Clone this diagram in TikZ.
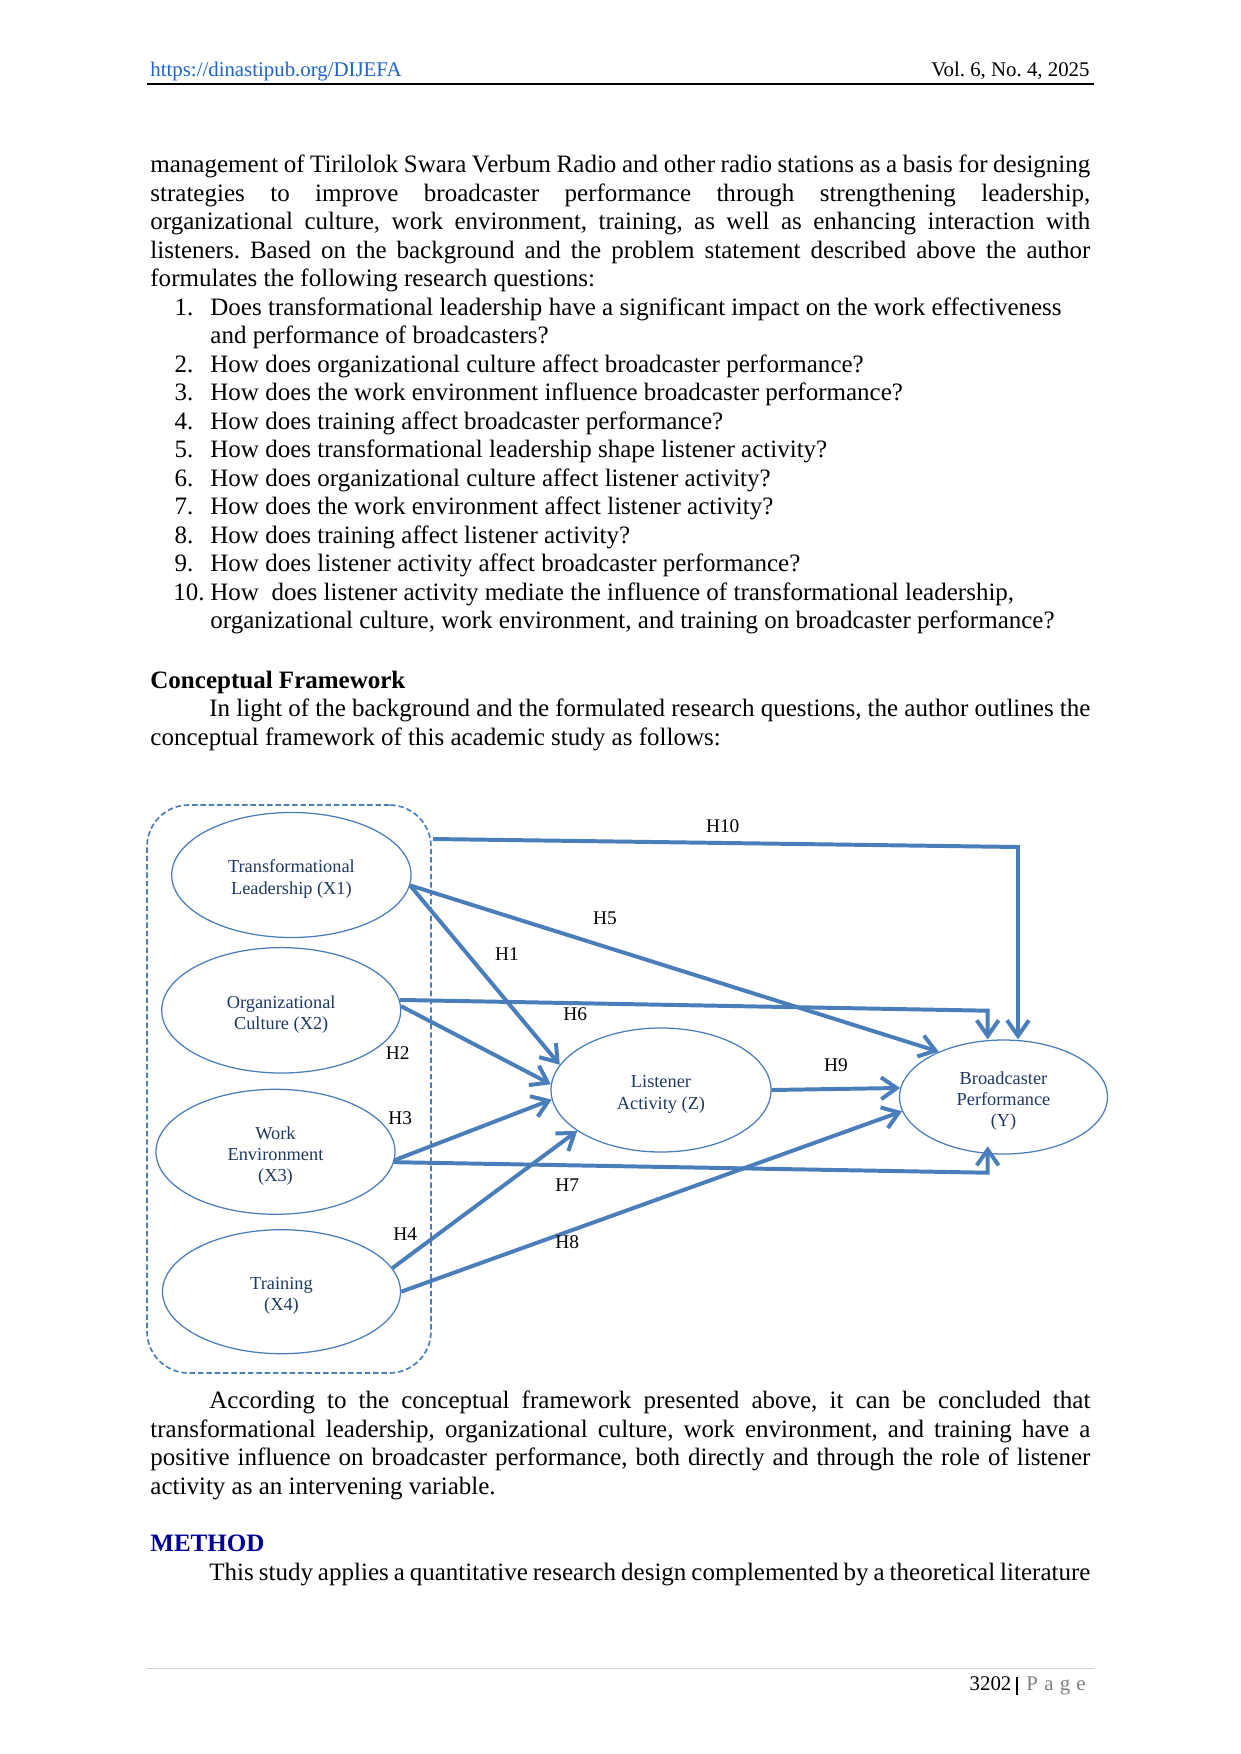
\documentclass[tikz,border=0pt]{standalone}
\usepackage{fontspec}
\setmainfont{Liberation Serif}
\usetikzlibrary{arrows.meta,shapes.geometric}
\definecolor{lnblue}{RGB}{74,126,187}
\definecolor{txblue}{RGB}{31,56,100}
\definecolor{urlblue}{RGB}{30,100,200}
\definecolor{headblue}{RGB}{0,0,153}
\def\px{0.4797pt}
\newcommand\jfull[1]{\makebox[450.9pt][s]{#1}}
\newcommand\jind[1]{\makebox[422.6pt][s]{#1}}
\begin{document}
\frenchspacing
\begin{tikzpicture}[x=0.4797pt,y=-0.4797pt,
  body/.style={anchor=base west,inner sep=0,font=\fontsize{12}{14}\selectfont},
  bodyb/.style={body,font=\fontsize{12}{14}\selectfont\bfseries},
  small/.style={anchor=base west,inner sep=0,font=\fontsize{10}{12}\selectfont},
  ell/.style={ellipse,draw=lnblue,line width=0.6pt,inner sep=0,align=center,
    text=txblue,font=\fontsize{8.8}{10.2}\selectfont},
  conn/.style={draw=lnblue,line width=1.9pt,line join=miter,
    -{Straight Barb[length=7.5pt,width=10.5pt]}},
  lab/.style={anchor=base,inner sep=0,font=\fontsize{9.3}{11}\selectfont},
  grpbox/.style={draw=lnblue,line width=0.8pt,dash pattern=on 2.6pt off 1.4pt,
    rounded corners=20pt,inner sep=0}]
\useasboundingbox (0,0) rectangle (1241,1754);
\fill[white] (0,0) rectangle (1241,1754);

% header
\node[small,text=urlblue] (url) at (150,77) {\underline{https://dinastipub.org/DIJEFA}};
\node[small,anchor=base east] (vol) at (1090,77) {Vol. 6, No. 4, 2025};
\draw[line width=1pt] (147,84.3) -- (1094,84.3);

% paragraph
\node[body] (p1) at (150,172.7) {\jfull{management of Tirilolok Swara Verbum Radio and other radio stations as a basis for designing}};
\node[body] (p2) at (150,201.2) {\jfull{strategies to improve broadcaster performance through strengthening leadership,}};
\node[body] (p3) at (150,229.7) {\jfull{organizational culture, work environment, training, as well as enhancing interaction with}};
\node[body] (p4) at (150,258.2) {\jfull{listeners. Based on the background and the problem statement described above the author}};
\node[body] (p5) at (150,286.7) {formulates the following research questions:};

% list
\node[body] (n1) at (174.3,315.2) {1.};
\node[body] (q1) at (210,315.2) {Does transformational leadership have a significant impact on the work effectiveness};
\node[body] (q1b) at (210,343.7) {and performance of broadcasters?};
\node[body] (n2) at (174.3,372.2) {2.};
\node[body] (q2) at (210,372.2) {How does organizational culture affect broadcaster performance?};
\node[body] (n3) at (174.3,400.7) {3.};
\node[body] (q3) at (210,400.7) {How does the work environment influence broadcaster performance?};
\node[body] (n4) at (174.3,429.2) {4.};
\node[body] (q4) at (210,429.2) {How does training affect broadcaster performance?};
\node[body] (n5) at (174.3,457.7) {5.};
\node[body] (q5) at (210,457.7) {How does transformational leadership shape listener activity?};
\node[body] (n6) at (174.3,486.2) {6.};
\node[body] (q6) at (210,486.2) {How does organizational culture affect listener activity?};
\node[body] (n7) at (174.3,514.7) {7.};
\node[body] (q7) at (210,514.7) {How does the work environment affect listener activity?};
\node[body] (n8) at (174.3,543.2) {8.};
\node[body] (q8) at (210,543.2) {How does training affect listener activity?};
\node[body] (n9) at (174.3,571.7) {9.};
\node[body] (q9) at (210,571.7) {How does listener activity affect broadcaster performance?};
\node[body] (n10) at (173,600.2) {10.};
\node[body] (q10) at (210,600.2) {How~\ does listener activity mediate the influence of transformational leadership,};
\node[body] (q10b) at (210,628.7) {organizational culture, work environment, and training on broadcaster performance?};

% conceptual framework
\node[bodyb] (cfh) at (150,688) {Conceptual Framework};
\node[body] (cf1) at (209,716.5) {\jind{In light of the background and the formulated research questions, the author outlines the}};
\node[body] (cf2) at (150,745) {conceptual framework of this academic study as follows:};

% diagram
\node[grpbox,minimum width=284*\px,minimum height=568*\px] (grp) at (289,1089) {};
\node[ell,minimum width=239.4*\px,minimum height=125*\px] (X1) at (291.4,875) {\rule{0pt}{10pt}Transformational\\Leadership (X1)};
\node[ell,minimum width=239*\px,minimum height=125.4*\px] (X2) at (281.2,1010.3) {\rule{0pt}{10pt}Organizational\\Culture (X2)};
\node[ell,minimum width=239*\px,minimum height=125*\px] (X3) at (275.5,1151.8) {\rule{0pt}{10pt}Work\\Environment\\(X3)};
\node[ell,minimum width=238*\px,minimum height=124*\px] (X4) at (281.5,1291.7) {\rule{0pt}{10pt}Training\\(X4)};
\node[ell,minimum width=220*\px,minimum height=124*\px] (Z) at (661,1090) {\rule{0pt}{10pt}Listener\\Activity (Z)};
\node[ell,minimum width=208*\px,minimum height=114*\px] (Y) at (1003.5,1097) {\rule{0pt}{10pt}Broadcaster\\Performance\\(Y)};

\coordinate (h10s) at (433,839);
\coordinate (h10c) at (1018,847);
\coordinate (h6c) at (987.7,1010.7);
\coordinate (h7c) at (987.7,1172.7);

\draw[conn] (h10s) -- (h10c) -- (h10c |- Y.north);
\draw[conn] (X1.-5) -- (Y.145);
\draw[conn] (X1.-5) -- (Z.166);
\draw[conn] (X2.5) -- (h6c) -- (h6c |- Y.north);
\draw[conn] (X2.2.5) -- (Z.177);
\draw[conn] (X3.-4) -- (Z.185);
\draw[conn,shorten >=-4pt] (X3.-5.5) -- (h7c) -- (h7c |- Y.south);
\draw[conn] (X4.12.5) -- (Z.206.8);
\draw[conn] (X4.east) -- (Y.188.5);
\draw[conn] (Z.east) -- (Y.175);

\node[lab] (l10) at (722.7,832.3) {H10};
\node[lab] (l5) at (605,924.3) {H5};
\node[lab] (l1) at (507,960) {H1};
\node[lab] (l6) at (575.3,1020) {H6};
\node[lab] (l2) at (397.7,1059.3) {H2};
\node[lab] (l3) at (400.3,1124) {H3};
\node[lab] (l9) at (836,1071.7) {H9};
\node[lab] (l7) at (567.3,1191) {H7};
\node[lab] (l4) at (405.3,1240) {H4};
\node[lab] (l8) at (567.3,1248.3) {H8};

% text after diagram
\node[body] (a1) at (209,1408.5) {\jind{According to the conceptual framework presented above, it can be concluded that}};
\node[body] (a2) at (150,1437) {\jfull{transformational leadership, organizational culture, work environment, and training have a}};
\node[body] (a3) at (150,1465.5) {\jfull{positive influence on broadcaster performance, both directly and through the role of listener}};
\node[body] (a4) at (150,1494) {activity as an intervening variable.};
\node[bodyb,text=headblue] (meth) at (150,1551.5) {METHOD};
\node[body] (m1) at (209,1580) {\jind{This study applies a quantitative research design complemented by a theoretical literature}};

% footer
\draw[black!18,line width=0.6pt] (147,1668.3) -- (1094,1668.3);
\node[small] (pg) at (969.3,1690.7) {3202};
\draw[line width=0.7pt] (1017,1676.7) -- (1017,1695);
\node[small,text=black!50] (pgw) at (1026,1690.7) {P\kern3pt a\kern3pt g\kern3pt e};
\end{tikzpicture}
\end{document}
